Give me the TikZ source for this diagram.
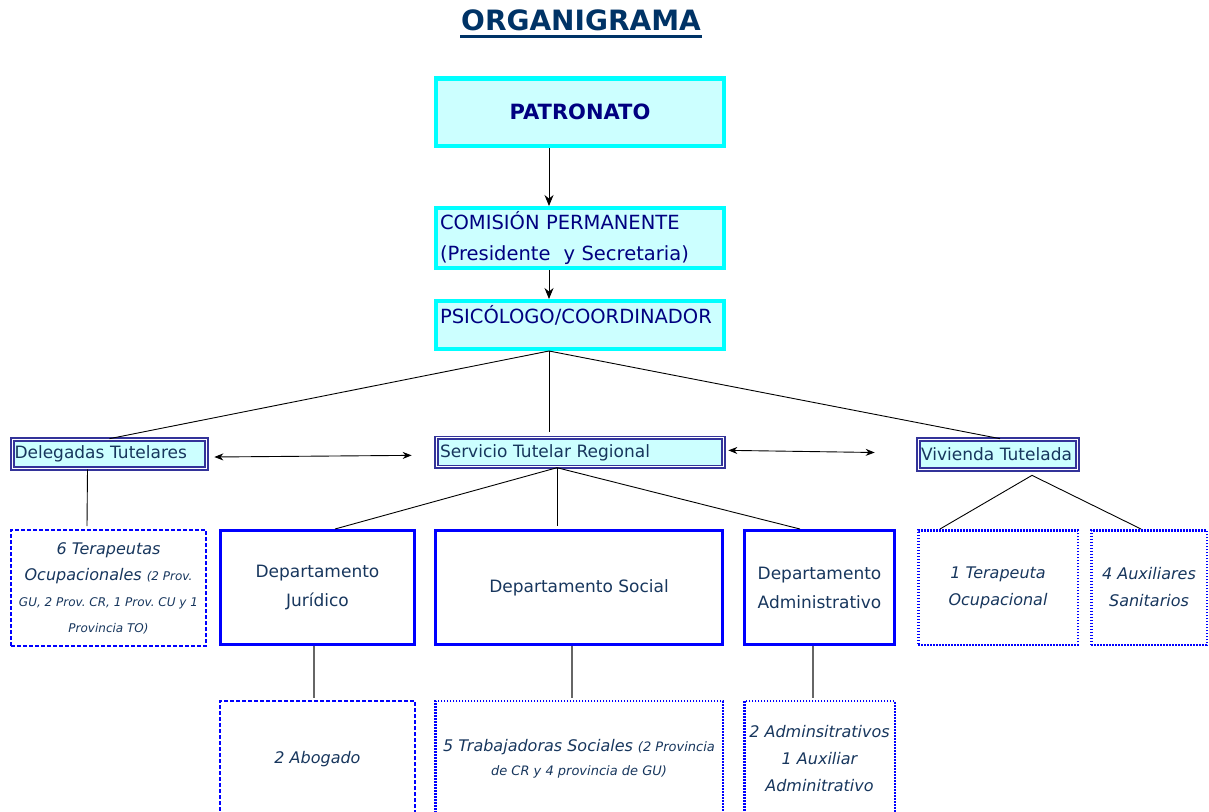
\documentclass[tikz,border=0pt]{standalone}
\usepackage{fontspec}
\setmainfont{DejaVu Sans}
\usetikzlibrary{arrows.meta,positioning}

\definecolor{boxcyan}{RGB}{0,255,255}
\definecolor{boxfill}{RGB}{204,255,255}
\definecolor{boxnavy}{RGB}{0,0,128}
\definecolor{rimnavy}{RGB}{51,51,153}
\definecolor{inknavy}{RGB}{23,54,93}
\definecolor{titlenavy}{RGB}{0,51,102}
\definecolor{rimblue}{RGB}{0,0,255}

\begin{document}
\frenchspacing
\begin{tikzpicture}[x=1pt,y=-1pt,font=\fontsize{17}{27}\selectfont,
    >={Stealth[length=11pt,width=9pt]}]
    \tikzstyle{topbox}=[draw=boxcyan, fill=boxfill, line width=4pt, minimum width=288pt, inner sep=0pt, text=boxnavy, text width=280pt, align=left, font=\fontsize{19.5}{31}\selectfont]
    \tikzstyle{dblbox}=[draw=rimnavy, double=white, line width=1.7pt, double distance=1.2pt, fill=boxfill, inner sep=0pt, text=inknavy, align=left]
    \tikzstyle{deptbox}=[draw=rimblue, line width=3pt, inner sep=0pt, minimum height=114pt, text=inknavy, align=center, font=\fontsize{17}{29}\selectfont]
    \tikzstyle{dashbox}=[draw=rimblue, line width=2pt, dash pattern=on 4pt off 2pt, inner sep=0pt, minimum height=116pt, text=inknavy, align=center, font=\fontsize{16}{26}\selectfont\itshape]
    \tikzstyle{dotbox}=[draw=rimblue, line width=2.5pt, dash pattern=on 1.5pt off 1.5pt, inner sep=0pt, minimum height=114.5pt, text=inknavy, align=center, font=\fontsize{16}{27}\selectfont\itshape]
    \tikzstyle{link}=[line width=0.9pt]
    \tikzstyle{stafflink}=[black!60, line width=1.3pt]

    \useasboundingbox (0,0) rectangle (1209,811);
    \clip (0,0) rectangle (1209,811);

    % heading
    \node[text=titlenavy, font=\fontsize{28}{32}\selectfont\bfseries, inner sep=1pt] (titulo) at (581,20) {ORGANIGRAMA};
    \draw[titlenavy, line width=3pt] ([yshift=-5pt]titulo.south west) -- ([yshift=-5pt]titulo.south east);

    % top column
    \node[topbox, line width=4.5pt, minimum height=67.5pt, align=center, font=\fontsize{21}{24}\selectfont\bfseries] (patronato) at (580,112) {PATRONATO};
    \node[topbox, minimum height=60pt, below=58pt of patronato] (comision) {COMISIÓN PERMANENTE\\(Presidente~ y Secretaria)};
    \node[topbox, minimum height=48pt, below=29pt of comision] (psicologo) {\raisebox{2pt}[0pt][0pt]{PSICÓLOGO/COORDINADOR}};

    % second row
    \node[dblbox, minimum width=287pt, minimum height=29pt, text width=280pt, below=86pt of psicologo] (servicio) {Servicio Tutelar Regional};
    \node[dblbox, minimum width=194pt, minimum height=29pt, text width=190pt] (delegadas) at (109.5,454) {Delegadas Tutelares};
    \node[dblbox, minimum width=159pt, minimum height=30pt, text width=154pt] (vivienda) at (998,454.5) {Vivienda Tutelada};

    % departments
    \node[dashbox, minimum width=195pt] (terap6) at (108.5,588) {6 Terapeutas\\Ocupacionales {\fontsize{12}{25}\selectfont (2 Prov.}\\{\fontsize{12}{24}\selectfont GU, 2 Prov. CR, 1 Prov. CU y 1}\\{\fontsize{12}{22}\selectfont Provincia TO)}};
    \node[deptbox, minimum width=194pt] (juridico) at (317.5,587.5) {Departamento\\Jurídico};
    \node[deptbox, minimum width=287pt] (social) at (579,587.5) {Departamento Social};
    \node[deptbox, minimum width=150pt] (admin) at (819.5,587.5) {Departamento\\Administrativo};
    \node[dotbox, minimum width=159.5pt] (terap1) at (998,587.5) {1 Terapeuta\\Ocupacional};
    \node[dotbox, minimum width=115.5pt] (auxil) at (1149,587.5) {4 Auxiliares\\Sanitarios};

    % staff
    \node[dashbox, minimum width=195pt] (abogado) at (317.5,759) {2 Abogado};
    \node[dotbox, minimum width=287.5pt, minimum height=116pt, font=\fontsize{16}{24}\selectfont\itshape] (trabaj) at (579,759) {5 Trabajadoras Sociales {\fontsize{13}{24}\selectfont (2 Provincia}\\{\fontsize{13}{24}\selectfont de CR y 4 provincia de GU)}};
    \node[dotbox, minimum width=150.5pt, minimum height=116pt] (adminis) at (819.5,759) {2 Adminsitrativos\\1 Auxiliar\\Adminitrativo};

    % edges
    \draw[link,->] ([xshift=-31pt]patronato.south) -- ([xshift=-31pt]comision.north);
    \draw[link,->] ([xshift=-31pt]comision.south) -- ([xshift=-31pt]psicologo.north);
    \draw[link] ([xshift=-31pt]psicologo.south) -- (delegadas.north);
    \draw[link] ([xshift=-31pt]psicologo.south) -- ([xshift=-31pt,yshift=5pt]servicio.north);
    \draw[link] ([xshift=-31pt]psicologo.south) -- ([xshift=2pt]vivienda.north);
    \draw[link,{Stealth[length=9pt,width=7pt]}-{Stealth[length=9pt,width=7pt]}] ([xshift=7pt,yshift=-3pt]delegadas.east) -- ([xshift=-24pt,yshift=-3pt]servicio.west);
    \draw[link,{Stealth[length=9pt,width=7pt]}-{Stealth[length=9pt,width=7pt]}] ([xshift=4pt,yshift=2pt]servicio.east) -- ([xshift=-43pt,yshift=2pt]vivienda.west);

    \draw[link] ([xshift=-22pt]delegadas.south) -- ([xshift=-21.5pt,yshift=3pt]terap6.north);
    \draw[link] ([xshift=-23pt]servicio.south) -- ([xshift=17.5pt]juridico.north);
    \draw[link] ([xshift=-23pt]servicio.south) -- ([xshift=-22pt,yshift=3pt]social.north);
    \draw[link] ([xshift=-23pt]servicio.south) -- ([xshift=-19.5pt]admin.north);
    \draw[link] ([xshift=34pt,yshift=-5pt]vivienda.south) -- ([xshift=-58pt]terap1.north);
    \draw[link] ([xshift=34pt,yshift=-5pt]vivienda.south) -- ([xshift=-8pt]auxil.north);

    \draw[stafflink] ([xshift=-3.5pt]juridico.south) -- ([xshift=-3.5pt,yshift=2pt]abogado.north);
    \draw[stafflink] ([xshift=-7pt]social.south) -- ([xshift=-7pt,yshift=2pt]trabaj.north);
    \draw[stafflink] ([xshift=-6.5pt]admin.south) -- ([xshift=-6.5pt,yshift=2pt]adminis.north);
\end{tikzpicture}
\end{document}
